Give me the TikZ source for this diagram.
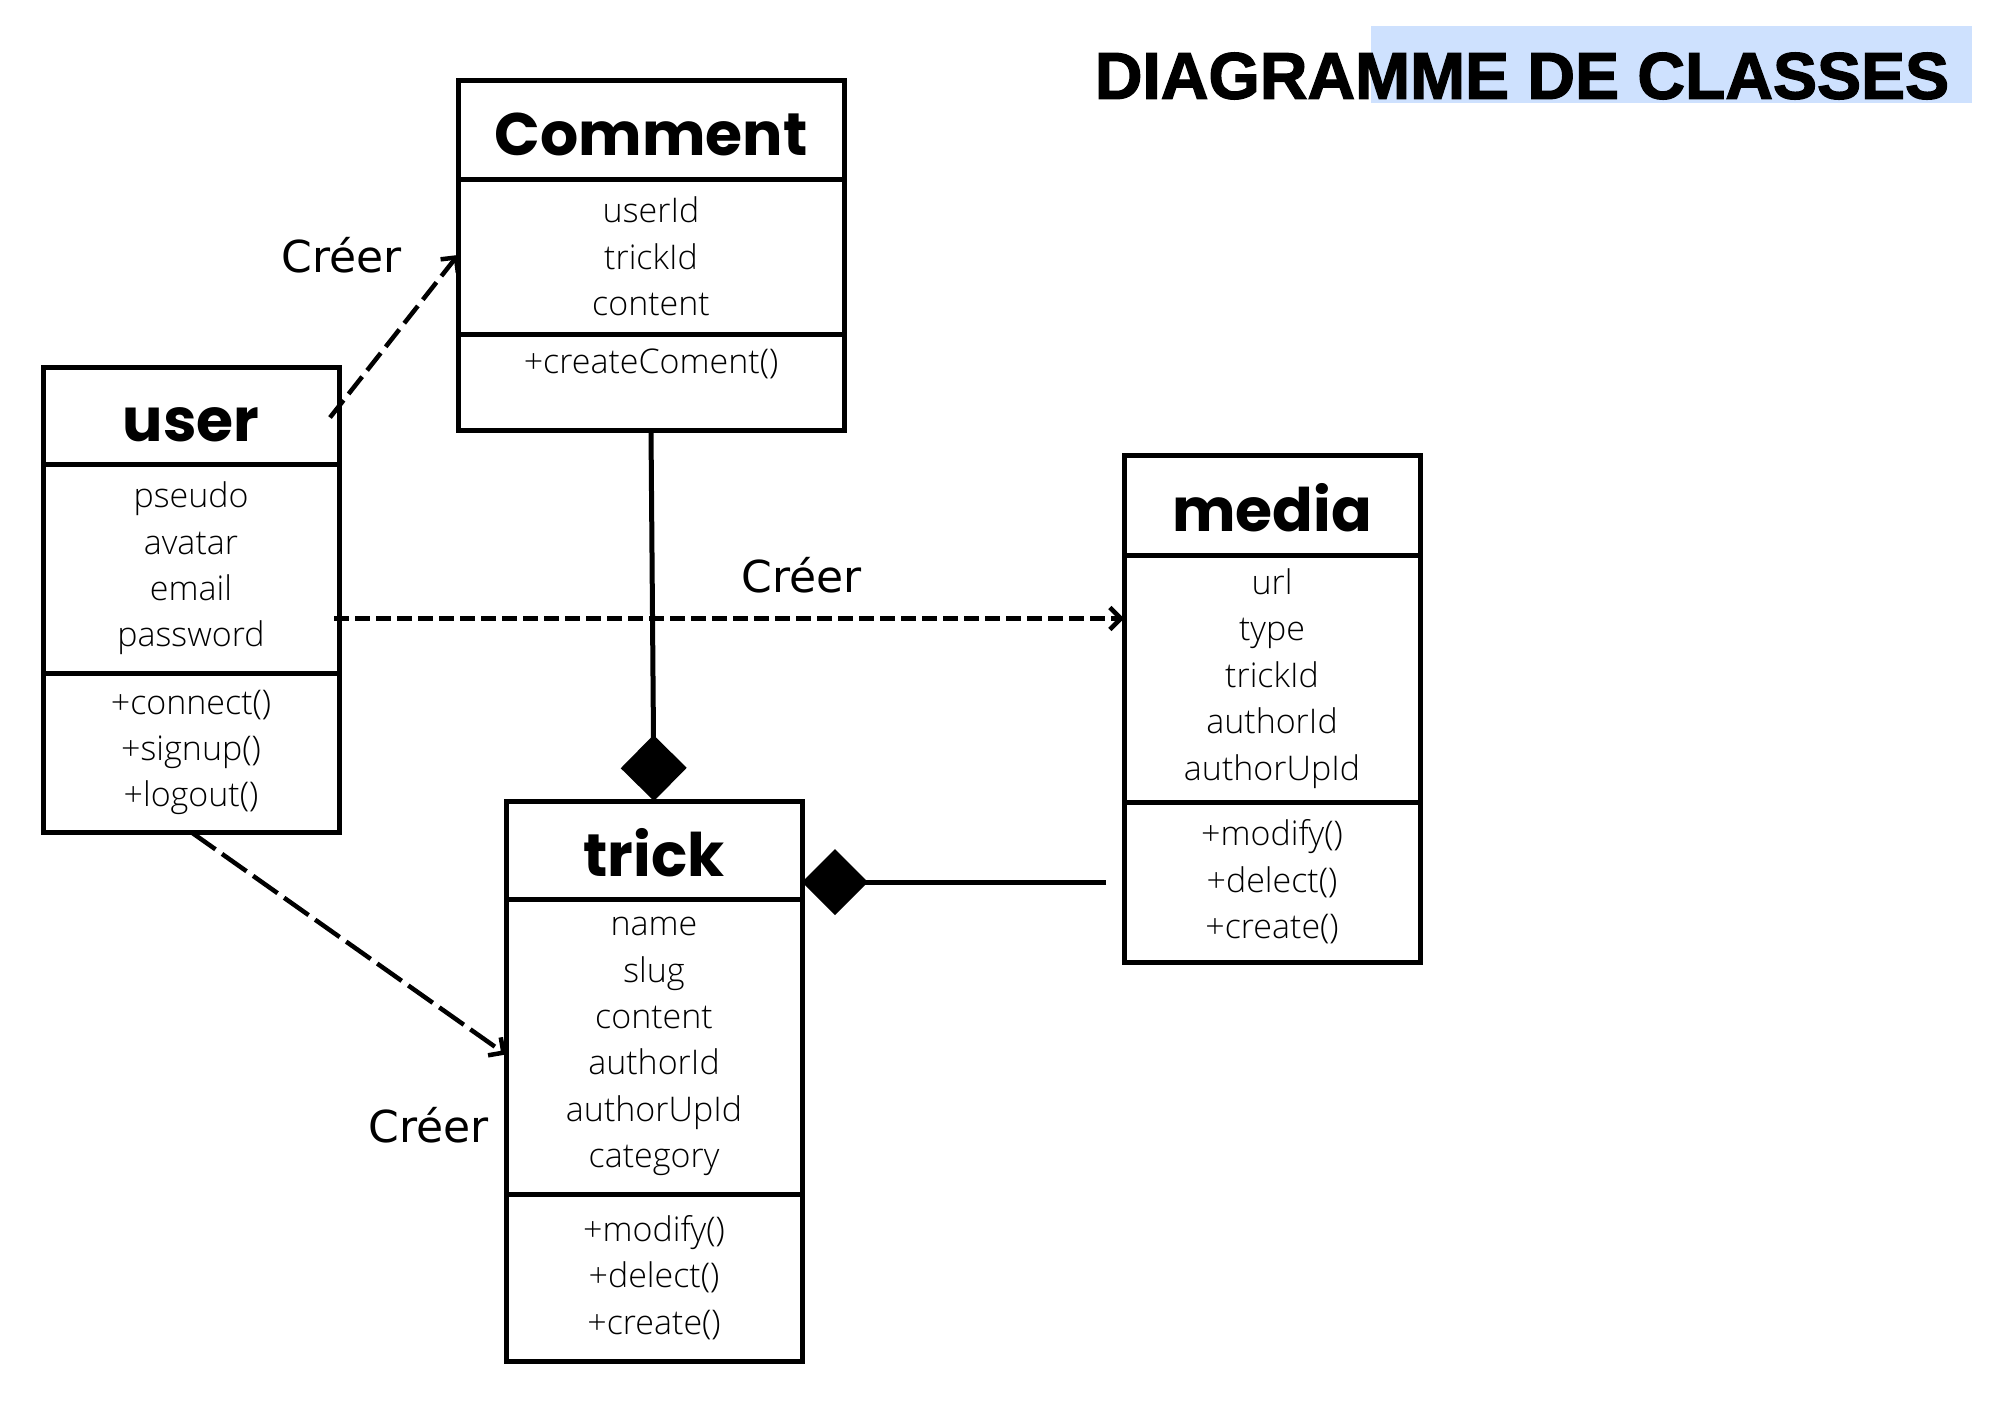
\documentclass[tikz,border=0pt]{standalone}
\usepackage{fontspec}
\usetikzlibrary{positioning,arrows.meta}

\newfontfamily\titlefont{Liberation Sans}[BoldFeatures={FakeBold=2}]
\newfontfamily\headfont{Poppins}
\newfontfamily\attrfont{Open Sans Light}
\newfontfamily\labelfont{DejaVu Sans}

\definecolor{titleblue}{RGB}{206,225,254}

\tikzstyle{classhead}=[draw=black,line width=5pt,outer sep=0pt,inner sep=0pt,text height=52pt,text depth=0pt,font=\headfont\bfseries\fontsize{60}{60}\selectfont]
\tikzstyle{classbody}=[draw=black,line width=5pt,outer sep=0pt,inner sep=0pt,align=center,font=\attrfont\fontsize{34}{46.4}\selectfont]
\tikzstyle{createarrow}=[line width=4.5pt,-{Straight Barb[length=11pt,width=22pt,line width=4.5pt]}]
\tikzstyle{compose}=[line width=5pt,-{Diamond[length=66pt,width=66pt]}]
\tikzstyle{createlabel}=[inner sep=0pt,font=\labelfont\fontsize{44}{44}\selectfont]

\begin{document}
\begin{tikzpicture}[x=1pt,y=-1pt]

   \useasboundingbox (0,0) rectangle (2000,1414);

   % title
   \fill[titleblue] (1371,26) rectangle (1972,103);
   \node[font=\titlefont\bfseries\fontsize{66}{66}\selectfont] (title) at (1522,76) {DIAGRAMME DE CLASSES};

   % Comment
   \node[classhead,anchor=north west,minimum width=386pt,minimum height=99pt] (comment) at (458,80) {Comment};
   \node[classbody,below=0pt of comment,minimum width=386pt,minimum height=155pt] (comment attr) {userId\\trickId\\content};
   \node[classbody,below=0pt of comment attr,minimum width=386pt,minimum height=96pt,text height=26pt,text depth=44pt] (comment meth) {+createComent()};

   % user
   \node[classhead,anchor=north west,minimum width=296pt,minimum height=97pt] (user) at (43,367) {user};
   \node[classbody,below=0pt of user,minimum width=296pt,minimum height=209pt] (user attr) {pseudo\\avatar\\email\\password};
   \node[classbody,below=0pt of user attr,minimum width=296pt,minimum height=159pt] (user meth) {+connect()\\+signup()\\+logout()};

   % media
   \node[classhead,anchor=north west,minimum width=296pt,minimum height=100pt] (media) at (1124,455) {media};
   \node[classbody,below=0pt of media,minimum width=296pt,minimum height=247pt] (media attr) {url\\type\\trickId\\authorId\\authorUpId};
   \node[classbody,below=0pt of media attr,minimum width=296pt,minimum height=160pt] (media meth) {+modify()\\+delect()\\+create()};

   % trick
   \node[classhead,anchor=north west,minimum width=296pt,minimum height=98pt] (trick) at (506,801) {trick};
   \node[classbody,below=0pt of trick,minimum width=296pt,minimum height=295pt] (trick attr) {name\\slug\\content\\authorId\\authorUpId\\category};
   \node[classbody,below=0pt of trick attr,minimum width=296pt,minimum height=167pt] (trick meth) {+modify()\\+delect()\\+create()};

   % relations
   \draw[createarrow,dash pattern=on 22pt off 8pt] ([xshift=-9pt,yshift=-2pt]user.east) -- ([yshift=1.5pt]comment attr.west);
   \draw[createarrow,dash pattern=on 15pt off 6pt] ([xshift=-5pt,yshift=-50pt]user attr.east) -- ([yshift=-50pt]user attr.east -| media attr.west);
   \draw[createarrow,dash pattern=on 30pt off 8pt] (user meth.south) -- ([yshift=-8pt]trick attr.west);

   \draw[compose] (comment meth.south) -- (trick.north);
   \draw[compose] ([xshift=-18pt]media meth.west) -- (media meth.west -| trick.east);

   \node[createlabel] (label comment) at (342,255) {Créer};
   \node[createlabel] (label media) at (802,575) {Créer};
   \node[createlabel] (label trick) at (429,1125) {Créer};

\end{tikzpicture}
\end{document}
